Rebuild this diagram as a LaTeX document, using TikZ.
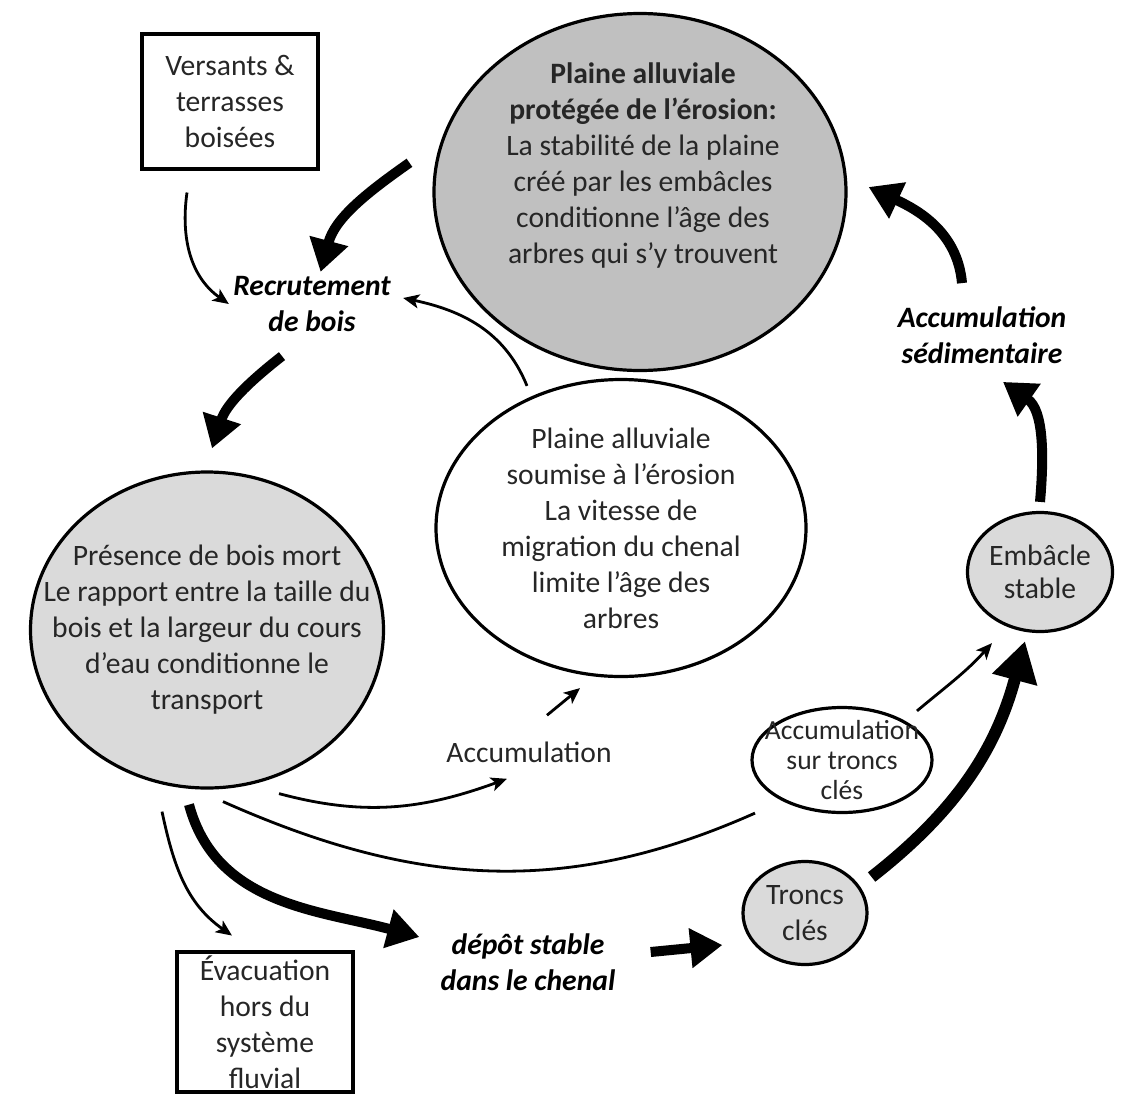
\documentclass[tikz,border=0pt]{standalone}
\usepackage{fontspec}
\setmainfont{Carlito}
\usetikzlibrary{arrows.meta,calc,shapes.geometric}
\definecolor{grisfonce}{RGB}{192,192,192}
\definecolor{grisclair}{RGB}{218,218,218}
\begin{document}
\begin{tikzpicture}[x=0.5pt,y=0.5pt,
txt/.style={align=center,font=\fontsize{14.8}{18}\selectfont,text=black!85,inner sep=2pt},
bi/.style={txt,font=\fontsize{14.8}{18}\selectfont\bfseries\itshape,text=black},
boite/.style={txt,draw,line width=2pt,minimum width=88pt},
bulle/.style={txt,draw,ellipse,line width=1.6pt},
fin/.style={line width=1.4pt,-{Stealth[length=8pt,width=7pt,inset=2pt]}},
gros/.style={line width=5pt,-{Triangle[length=16pt,width=19pt]}}]
\useasboundingbox(0,0)rectangle(1124,-1098);
\node[boite,minimum height=67.5pt](versants)at(230,-101){Versants \&\\terrasses\\boisées};
\node[bulle,fill=grisfonce,minimum width=206pt,minimum height=178.5pt,label={[txt,yshift=13.5pt,xshift=1.5pt]center:{\textbf{Plaine alluviale}\\\textbf{protégée de l’érosion:}\\La stabilité de la plaine\\créé par les embâcles\\conditionne l’âge des\\arbres qui s’y trouvent}}](protege)at(640,-192){};
\node[bi](recrut)at(312,-304){Recrutement\\de bois};
\node[bulle,minimum width=185pt,minimum height=148.5pt,inner sep=-12pt](soumise)at(621,-528){Plaine alluviale\\soumise à l’érosion\\La vitesse de\\migration du chenal\\limite l’âge des\\arbres};
\node[bulle,fill=grisclair,minimum width=176.5pt,minimum height=158pt,inner sep=-20pt](presence)at(207,-630){Présence de bois mort\\Le rapport entre la taille du\\bois et la largeur du cours\\d’eau conditionne le\\transport};
\node[txt](accum)at(529,-752){Accumulation};
\node[bulle,font=\fontsize{13.8}{15}\selectfont,minimum width=90pt,minimum height=52.5pt,inner sep=-15pt](accumtr)at(842,-760){Accumulation\\sur troncs\\clés};
\node[bulle,fill=grisclair,font=\fontsize{14.8}{16.5}\selectfont,minimum width=72.5pt,minimum height=59.5pt,inner sep=-12pt](embacle)at(1040,-572){Embâcle\\stable};
\node[bulle,fill=grisclair,minimum width=62pt,minimum height=51.5pt,inner sep=-6pt](troncs)at(805,-913){Troncs\\clés};
\node[bi](sedim)at(982,-335){Accumulation\\sédimentaire};
\node[bi](depot)at(528,-962){dépôt stable\\dans le chenal};
\node[boite,minimum height=68pt](evac)at(265,-1022){Évacuation\\hors du\\système\\fluvial};
\draw[gros]($(protege.173)+(-25,4)$)to[out=215,in=75](recrut);\draw[fin]($(versants.south)+(-43,-22)$)to[out=-98,in=145](recrut.west);
\draw[fin]($(soumise.north)+(-94,-8)$)to[out=112,in=-12]($(recrut.east)+(8,6)$);\draw[gros]($(recrut.south)+(-30,-20)$)to[out=218,in=72]($(presence.north)+(5,22)$);
\draw[fin]($(presence.south)+(-45,-22)$)to[out=-78,in=145]($(evac.north)+(-33,14)$);\draw[gros]($(presence.south)+(-18,-15)$)to[out=-75,in=165]($(depot.west)+(-17,25)$);
\draw[fin]($(presence.south)+(72,-4)$)to[out=-15,in=200]($(accum.south)+(-22,-12)$);\draw[fin]($(accum.north)+(18,22)$)--($(soumise.south)+(-41,-10)$);
\draw[line width=1.4pt]($(presence.south)+(16,-12)$)to[out=-24,in=204]($(accumtr.south)+(-87,1)$);
\draw[gros]($(depot.east)+(31,10)$)--($(troncs.west)+(-19,-32)$);\draw[line width=6pt,-{Triangle[length=20pt,width=22pt]}]($(troncs.east)+(3,36)$)to[out=38,in=255]($(embacle.south)+(-15,-8)$);
\draw[fin]($(accumtr.north)+(75,-5)$)to[out=40,in=228]($(embacle.south)+(-48,-10)$);
\draw[gros]($(embacle.north)+(0,9)$)to[out=85,in=-35]($(sedim.south)+(21,-14)$);\draw[gros]($(sedim.north)+(-20,19)$)to[out=95,in=-25]($(protege.east)+(21,5)$);
\end{tikzpicture}
\end{document}
